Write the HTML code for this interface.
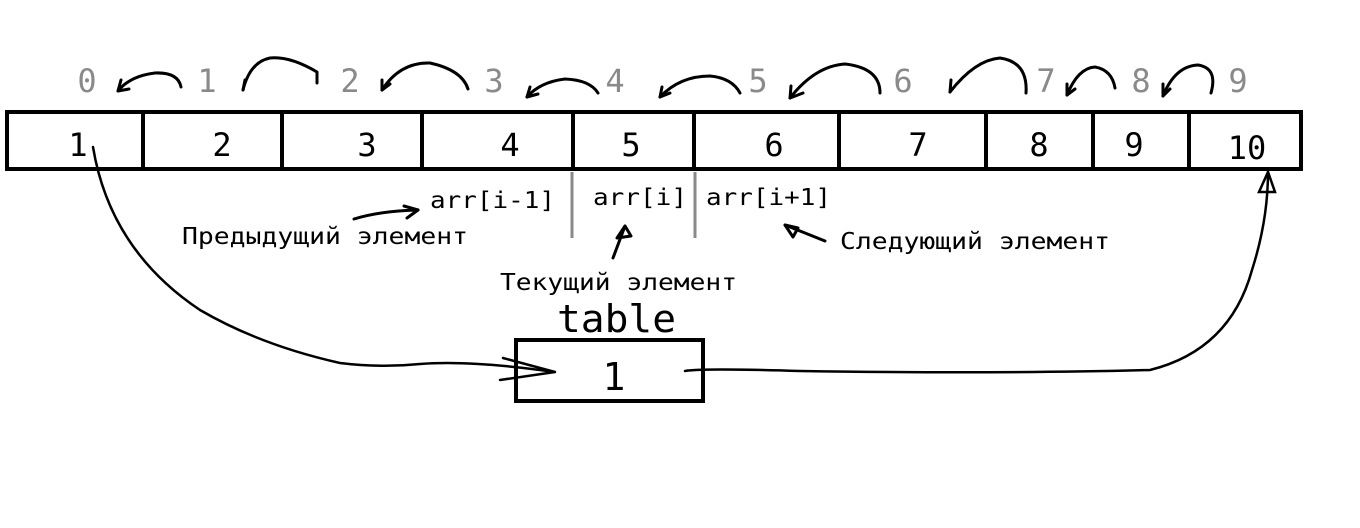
<!DOCTYPE html>
<html><head><meta charset="utf-8"><style>
html,body{margin:0;padding:0;background:#fff;}
svg{display:block;}
text{font-family:"DejaVu Sans Mono","Liberation Mono",monospace;}
</style></head><body>
<svg width="1360" height="528" viewBox="0 0 1360 528" xmlns="http://www.w3.org/2000/svg">
<rect x="0" y="0" width="1360" height="528" fill="#fff"/>
<!-- index digits -->
<g fill="#8a8a8a" font-size="32" text-anchor="middle">
<text x="87" y="92">0</text><text x="207" y="92">1</text><text x="350" y="92">2</text>
<text x="494" y="92">3</text><text x="615" y="92">4</text><text x="758" y="92">5</text>
<text x="903" y="92">6</text><text x="1046" y="92">7</text><text x="1141" y="92">8</text>
<text x="1238" y="92">9</text>
</g>
<!-- arcs -->
<g fill="none" stroke="#000" stroke-width="3" stroke-linecap="round" stroke-linejoin="round">
<path d="M181 87 Q178 72 155 73 Q130 76 118 91"/><path d="M118 91 L121 80 M118 91 L129 89"/>
<path d="M317 83 L317 72 Q290 56 270 58 Q250 62 243 90"/><path d="M243 90 L245 80"/>
<path d="M468 89 Q462 70 430 63 Q400 62 382 90"/><path d="M382 90 L382 80 M382 90 L390 84"/>
<path d="M598 93 Q590 80 565 79 Q540 82 527 97"/><path d="M527 97 L530 87 M527 97 L538 94"/>
<path d="M740 93 Q732 78 710 76 Q680 76 660 97"/><path d="M660 97 L662 87 M660 97 L670 93"/>
<path d="M880 93 Q880 68 845 64 Q815 66 790 98"/><path d="M790 98 L791 86 M790 98 L803 93"/>
<path d="M1026 93 Q1028 62 1000 58 Q975 60 950 92"/><path d="M950 92 L951 80"/>
<path d="M1115 88 Q1112 70 1095 67 Q1078 68 1067 95"/><path d="M1067 95 L1067 84 M1067 95 L1075 89"/>
<path d="M1211 93 Q1218 68 1198 65 Q1175 66 1163 96"/><path d="M1163 96 L1163 84 M1163 96 L1170 89"/>
</g>
<!-- array box -->
<g fill="none" stroke="#000" stroke-width="4">
<rect x="7" y="112" width="1294" height="57"/>
<path d="M143 112V169 M282 112V169 M422 112V169 M573 112V169 M694 112V169 M839 112V169 M986 112V169 M1093 112V169 M1189 112V169"/>
</g>
<g fill="#000" font-size="32" text-anchor="middle">
<text x="78" y="156">1</text><text x="222" y="156">2</text><text x="367" y="156">3</text>
<text x="510" y="156">4</text><text x="631" y="156">5</text><text x="774" y="156">6</text>
<text x="918" y="156">7</text><text x="1039" y="156">8</text><text x="1134" y="156">9</text>
<text x="1247" y="159">10</text>
</g>
<!-- gray separators -->
<g stroke="#8a8a8a" stroke-width="3"><path d="M572 172V238 M695 172V238"/></g>
<!-- labels -->
<g fill="#000" font-size="23">
<text x="430" y="208" textLength="125" lengthAdjust="spacingAndGlyphs">arr[i-1]</text>
<text x="593" y="205" textLength="94" lengthAdjust="spacingAndGlyphs">arr[i]</text>
<text x="706" y="205" textLength="125" lengthAdjust="spacingAndGlyphs">arr[i+1]</text>
<text x="182" y="244" textLength="286" lengthAdjust="spacingAndGlyphs">Предыдущий элемент</text>
<text x="840" y="249" textLength="270" lengthAdjust="spacingAndGlyphs">Следующий элемент</text>
<text x="500" y="290" textLength="237" lengthAdjust="spacingAndGlyphs">Текущий элемент</text>
<text x="557" y="332" font-size="38" textLength="119" lengthAdjust="spacingAndGlyphs">table</text>
</g>
<!-- label arrows -->
<g fill="none" stroke="#000" stroke-width="3" stroke-linecap="round" stroke-linejoin="round">
<path d="M354 219 Q380 211 418 210"/><path d="M418 210 L404 206 M418 210 L407 218"/>
<path d="M613 258 L625 226"/><path d="M625 226 L617 238 L631 236 Z"/>
<path d="M825 241 L785 225"/><path d="M785 225 L793 237 L798 228 Z"/>
</g>
<!-- table box -->
<rect x="516" y="340" width="187" height="61" fill="none" stroke="#000" stroke-width="4"/>
<text x="614" y="390" font-size="38" text-anchor="middle" fill="#000">1</text>
<!-- curves -->
<g fill="none" stroke="#000" stroke-width="2.5" stroke-linecap="round">
<path d="M93 147 Q110 250 200 310 Q260 345 340 363 Q380 368 420 364 Q470 360 555 372"/>
<path d="M500 380 L555 372 L503 358"/>
<path d="M685 371 Q700 368 800 371 Q1000 374 1150 370 Q1230 350 1252 270 Q1268 220 1268 172"/>
<path d="M1259 192 L1268 172 L1275 192 Z"/>
</g>
</svg>
</body></html>
